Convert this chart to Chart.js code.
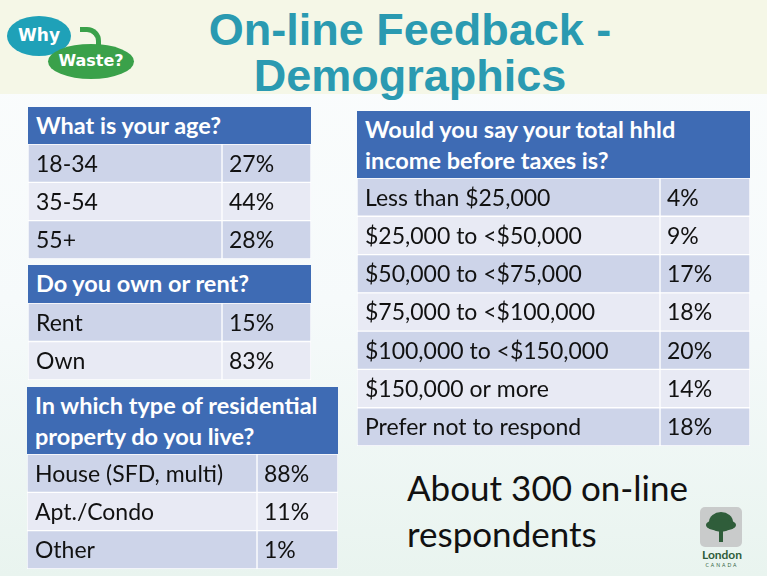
<!DOCTYPE html>
<html>
<head>
<meta charset="utf-8">
<script src="https://cdn.jsdelivr.net/npm/chart.js@4/dist/chart.umd.min.js"></script>
<style>
  html, body { margin: 0; padding: 0; }
  body {
    width: 767px; height: 576px; position: relative; overflow: hidden;
    background: linear-gradient(to bottom, #fbfdfd 0px, #f6fafb 300px, #e9f4ef 576px);
    font-family: Lato, "Open Sans", sans-serif;
  }
  #band { position: absolute; left: 0; top: 0; width: 767px; height: 94px; background: #f5f7e7; }
  #title {
    position: absolute; left: 140px; top: 7px; width: 540px; text-align: center;
    font-family: "Liberation Sans", Arial, sans-serif; font-weight: bold;
    font-size: 45px; line-height: 46px; color: #2a9ab1;
  }
  .tbl { position: absolute; }
  .hdr {
    background: #3e6bb4; color: #fff; font-weight: bold; font-size: 23.5px;
    line-height: 31px; padding: 3px 8px 0 8px; box-sizing: border-box;
  }
  .body { position: relative; }
  #note { position: absolute; left: 407px; top: 464px; font-size: 35px; line-height: 46px; color: #111; }
  /* Why Waste? logo */
  .bub { position: absolute; border-radius: 50%; color: #fff; font-weight: bold; text-align: center; font-family: "DejaVu Sans", sans-serif; }
  #why { left: 7px; top: 16px; width: 64px; height: 40px; background: #1fa1b8; font-size: 17px; line-height: 38px; }
  #waste { left: 48px; top: 44px; width: 86px; height: 35px; background: #3aa14a; font-size: 16px; line-height: 34px; }
  #arr { position: absolute; left: 80px; top: 27px; width: 16px; height: 16px; border: 5px solid #3aa14a; border-bottom: none; border-left: none; border-radius: 0 14px 0 0; }
  /* London logo */
  #lsq { position: absolute; left: 700px; top: 507px; width: 42px; height: 40px; background: #c9cbcb; border-radius: 5px; }
  .leaf { position: absolute; background: #2f5d3a; border-radius: 50%; }
  #trunk { position: absolute; left: 19px; top: 22px; width: 4px; height: 13px; background: #2f5d3a; }
  #lon { position: absolute; left: 694px; top: 548px; width: 56px; text-align: center; font-size: 12px; font-weight: bold; color: #2f5d3a; line-height: 14px; }
  #can { position: absolute; left: 694px; top: 562px; width: 56px; text-align: center; font-size: 5px; letter-spacing: 2px; color: #2f5d3a; }
</style>
</head>
<body>
<div id="band"></div>
<div id="why" class="bub">Why</div>
<div id="arr"></div>
<div id="waste" class="bub">Waste?</div>
<div id="title">On-line Feedback -<br>Demographics</div>

<div class="tbl" style="left:28px;top:107px;width:283px">
  <div class="hdr" style="height:37px">What is your age?</div>
  <div class="body" style="height:115px"><canvas id="ageChart"></canvas></div>
</div>
<div class="tbl" style="left:28px;top:265px;width:283px">
  <div class="hdr" style="height:38px">Do you own or rent?</div>
  <div class="body" style="height:77px"><canvas id="tenureChart"></canvas></div>
</div>
<div class="tbl" style="left:27px;top:387px;width:311px">
  <div class="hdr" style="height:67px">In which type of residential property do you live?</div>
  <div class="body" style="height:115px"><canvas id="homeChart"></canvas></div>
</div>
<div class="tbl" style="left:357px;top:111px;width:393px">
  <div class="hdr" style="height:67px">Would you say your total hhld income before taxes is?</div>
  <div class="body" style="height:268px"><canvas id="incomeChart"></canvas></div>
</div>

<div id="note">About 300 on-line<br>respondents</div>

<div id="lsq">
  <div class="leaf" style="left:9px;top:5px;width:24px;height:20px"></div>
  <div class="leaf" style="left:6px;top:12px;width:30px;height:12px"></div>
  <div id="trunk"></div>
</div>
<div id="lon">London</div>
<div id="can">CANADA</div>

<script>
// survey answers (percent of respondents)
const ageLabels = ['18-34', '35-54', '55+'];
const agePct = [27, 44, 28];

const tenureLabels = ['Rent', 'Own'];
const tenurePct = [15, 83];

const homeLabels = ['House (SFD, multi)', 'Apt./Condo', 'Other'];
const homePct = [88, 11, 1];

const incomeLabels = [
  'Less than $25,000',
  '$25,000 to <$50,000',
  '$50,000 to <$75,000',
  '$75,000 to <$100,000',
  '$100,000 to <$150,000',
  '$150,000 or more',
  'Prefer not to respond'
];
const incomePct = [4, 9, 17, 18, 20, 14, 18];

const darkRow = '#cdd4e9';
const lightRow = '#e8eaf4';

// draws the cell text using the chart scales
const cellText = {
  id: 'cellText',
  afterDatasetsDraw(chart) {
    const { ctx, scales: { x, y } } = chart;
    const labels = chart.data.labels;
    const pct = chart.options.plugins.cellText.values;
    const split = chart.options.plugins.cellText.split;
    ctx.save();
    ctx.fillStyle = '#111';
    ctx.font = '23px Lato';
    ctx.textBaseline = 'middle';
    labels.forEach((lab, i) => {
      const py = y.getPixelForValue(i) + 1;
      ctx.fillText(lab, x.getPixelForValue(0) + 8, py);
      ctx.fillText(pct[i] + '%', x.getPixelForValue(split) + 7, py);
    });
    ctx.restore();
  }
};

function makeTable(id, labels, pct, split) {
  const colors = labels.map((l, i) => i % 2 === 0 ? darkRow : lightRow);
  new Chart(document.getElementById(id), {
    type: 'bar',
    data: {
      labels: labels,
      datasets: [
        { data: labels.map(() => [0, split]), backgroundColor: colors },
        { data: pct.map(() => [split, 1]), backgroundColor: colors }
      ]
    },
    options: {
      indexAxis: 'y',
      responsive: true,
      maintainAspectRatio: false,
      animation: false,
      layout: { padding: 0 },
      datasets: {
        bar: {
          grouped: false,
          categoryPercentage: 1,
          barPercentage: 1,
          borderWidth: 1,
          borderColor: '#ffffff',
          borderSkipped: false
        }
      },
      scales: {
        x: { display: false, min: 0, max: 1 },
        y: { display: false }
      },
      plugins: {
        legend: { display: false },
        tooltip: { enabled: false },
        cellText: { values: pct, split: split }
      }
    },
    plugins: [cellText]
  });
}

makeTable('ageChart', ageLabels, agePct, 194 / 283);
makeTable('tenureChart', tenureLabels, tenurePct, 194 / 283);
makeTable('homeChart', homeLabels, homePct, 230 / 311);
makeTable('incomeChart', incomeLabels, incomePct, 303 / 393);
</script>
</body>
</html>
